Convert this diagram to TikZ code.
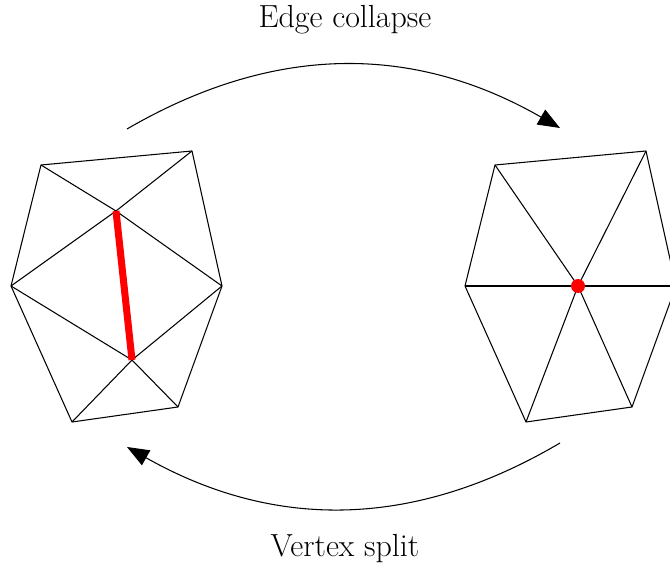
\documentclass[tikz,border=0pt]{standalone}
\usepackage{xcolor}
\usepackage{tikz}
\usetikzlibrary{arrows.meta}

\begin{document}
\begin{tikzpicture}[
  x=0.02cm, y=0.02cm,
  mesh/.style   = {draw=black, line width=0.6pt, line join=round},
  collapsed/.style = {draw=red, line width=4pt},
  newvert/.style = {circle, fill=red, inner sep=0pt, minimum size=2.8mm},
  op/.style     = {-{Triangle[length=4.4mm,width=3.4mm]}, draw=black,
                   line width=0.6pt, bend left=30},
  lbl/.style    = {font=\fontsize{18.2}{22}\selectfont, inner sep=0pt}
]
\useasboundingbox (0,0) rectangle (670,565);

%%%%%%%%%%%%%%%%%%%%%%% LEFT MESH (before collapse) %%%%%%%%%%%%%%%%%%%%%%%%%%%
\begin{scope}
  \coordinate (a1) at ( 41,400);
  \coordinate (b1) at (192,414);
  \coordinate (c1) at (222,279);
  \coordinate (d1) at (178,158);
  \coordinate (e1) at ( 72,143);
  \coordinate (f1) at ( 11,279);
  \coordinate (u)  at (116,354);
  \coordinate (v)  at (132,205);

  \draw[mesh] (a1) -- (b1) -- (c1) -- (d1) -- (e1) -- (f1) -- cycle;
  \draw[mesh] (a1) -- (u);  \draw[mesh] (b1) -- (u);
  \draw[mesh] (f1) -- (u);  \draw[mesh] (c1) -- (u);
  \draw[mesh] (f1) -- (v);  \draw[mesh] (c1) -- (v);
  \draw[mesh] (d1) -- (v);  \draw[mesh] (e1) -- (v);
  \draw[collapsed] (u) -- (v);
\end{scope}

%%%%%%%%%%%%%%%%%%%%%%% RIGHT MESH (after collapse) %%%%%%%%%%%%%%%%%%%%%%%%%%%
\begin{scope}[xshift=454*0.02cm]
  \coordinate (a2) at ( 41,400);
  \coordinate (b2) at (192,414);
  \coordinate (c2) at (222,279);
  \coordinate (d2) at (178,158);
  \coordinate (e2) at ( 72,143);
  \coordinate (f2) at ( 11,279);
  \coordinate (w)  at (124,279);

  \draw[mesh] (a2) -- (b2) -- (c2) -- (d2) -- (e2) -- (f2) -- cycle;
  \foreach \p in {a2,b2,c2,d2,e2,f2}
    \draw[mesh] (w) -- (\p);
  \node[newvert] (wdot) at (w) {};
\end{scope}

%%%%%%%%%%%%%%%%%%%%%%% OPERATIONS %%%%%%%%%%%%%%%%%%%%%%%%%%%%%%%%%%%%%%%%%%%%
\coordinate (topl) at (127,436);
\coordinate (topr) at (560,437);
\coordinate (botr) at (560,122);
\coordinate (botl) at (127,118);

\draw[op] (topl) to (topr);
\draw[op] (botr) to (botl);

\node[lbl] (collapse) at (345,545) {Edge collapse};
\node[lbl] (split)    at (345, 16) {Vertex split};

\end{tikzpicture}
\end{document}
